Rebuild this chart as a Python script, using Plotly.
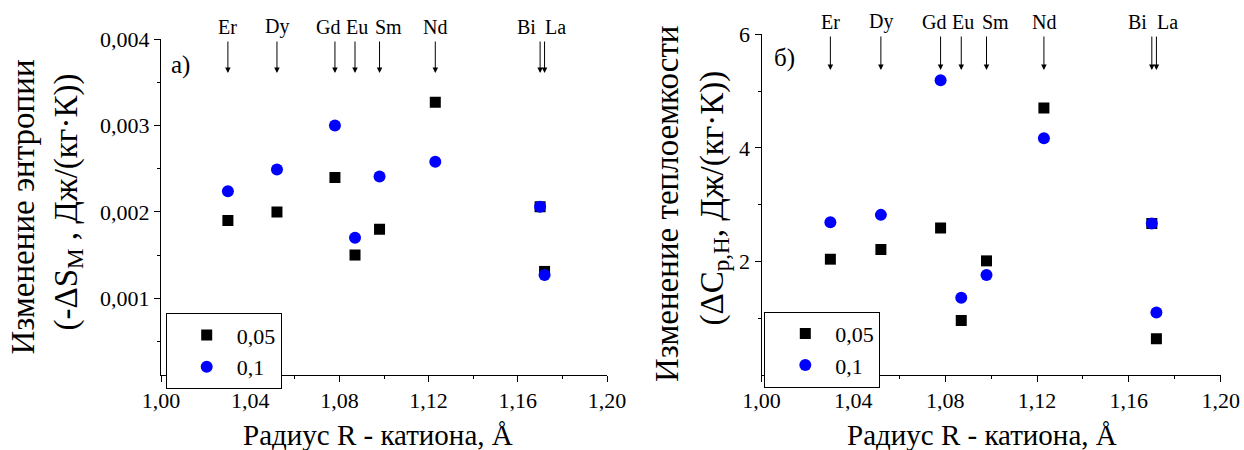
import plotly.graph_objects as go

# ---------------- data ----------------
elements = ["Er", "Dy", "Gd", "Eu", "Sm", "Nd", "Bi", "La"]
radius = [1.030, 1.052, 1.078, 1.087, 1.098, 1.123, 1.170, 1.172]
ds_005 = [0.00190, 0.00200, 0.00240, 0.00150, 0.00180, 0.00327, 0.00206, 0.00131]
ds_01 = [0.00224, 0.00249, 0.00300, 0.00170, 0.00241, 0.00258, 0.00206, 0.00127]
dc_005 = [2.04, 2.21, 2.59, 0.96, 2.01, 4.70, 2.67, 0.64]
dc_01 = [2.69, 2.82, 5.19, 1.36, 1.76, 4.17, 2.67, 1.10]
series_names = ["0,05", "0,1"]
x_ticks = [1.00, 1.04, 1.08, 1.12, 1.16, 1.20]
y1_ticks = [0.001, 0.002, 0.003, 0.004]
y2_ticks = [2, 4, 6]

# ---------------- style ----------------
W, H = 1244, 450
FONT = "Liberation Serif"
label_shift = {"Er": 0, "Dy": 0, "Gd": -6.5, "Eu": 2, "Sm": 9, "Nd": 0, "Bi": -14, "La": 11}

def px(x):
    return x / W

def py(y):
    return 1 - y / H

fig = go.Figure()

sq = dict(symbol="square", size=11, color="black")
ci = dict(symbol="circle", size=12, color="#0000FF")

fig.add_trace(go.Scatter(x=radius, y=ds_005, mode="markers", marker=sq, name=series_names[0],
                         xaxis="x", yaxis="y", legend="legend"))
fig.add_trace(go.Scatter(x=radius, y=ds_01, mode="markers", marker=ci, name=series_names[1],
                         xaxis="x", yaxis="y", legend="legend"))
fig.add_trace(go.Scatter(x=radius, y=dc_005, mode="markers", marker=sq, name=series_names[0],
                         xaxis="x2", yaxis="y2", legend="legend2"))
fig.add_trace(go.Scatter(x=radius, y=dc_01, mode="markers", marker=ci, name=series_names[1],
                         xaxis="x2", yaxis="y2", legend="legend2"))

axis_common = dict(showline=True, linecolor="black", linewidth=1, mirror=False,
                   ticks="outside", ticklen=6, tickwidth=1, tickcolor="black",
                   showgrid=False, zeroline=False, automargin=False,
                   tickfont=dict(family=FONT, size=22, color="black"))

xcommon = dict(axis_common, range=[1.0, 1.2], tickvals=x_ticks, tickformat=".2f",
               minor=dict(tickmode="linear", tick0=1.0, dtick=0.02, ticks="outside",
                          ticklen=3, tickwidth=1, tickcolor="black", showgrid=False))

fig.update_layout(
    width=W, height=H,
    margin=dict(l=0, r=0, t=0, b=0),
    paper_bgcolor="white", plot_bgcolor="white",
    separators=", ",
    showlegend=True,
    font=dict(family=FONT, color="black"),
    xaxis=dict(xcommon, domain=[px(161), px(607)], anchor="y"),
    xaxis2=dict(xcommon, domain=[px(761.5), px(1220.7)], anchor="y2"),
    yaxis=dict(axis_common, range=[0.00011, 0.004], domain=[py(375), py(39.3)], anchor="x",
               tickvals=y1_ticks, tickformat=".3f",
               minor=dict(tickvals=[0.0005, 0.0015, 0.0025, 0.0035], ticks="outside",
                          ticklen=3, tickwidth=1, tickcolor="black", showgrid=False)),
    yaxis2=dict(axis_common, range=[0, 6], domain=[py(375), py(34.3)], anchor="x2",
                tickvals=y2_ticks, tickformat="d",
                minor=dict(tickvals=[1, 3, 5], ticks="outside",
                           ticklen=3, tickwidth=1, tickcolor="black", showgrid=False)),
    legend=dict(x=px(165.7), y=py(313.3), xanchor="left", yanchor="top",
                bordercolor="black", borderwidth=1, bgcolor="white",
                font=dict(family=FONT, size=22, color="black"),
                itemwidth=50, indentation=10, tracegroupgap=0),
    legend2=dict(x=px(764.3), y=py(311.7), xanchor="left", yanchor="top",
                 bordercolor="black", borderwidth=1, bgcolor="white",
                 font=dict(family=FONT, size=22, color="black"),
                 itemwidth=50, indentation=10, tracegroupgap=0),
)

ann = []
# element labels and arrows
for xr, lab_y, tip_y, tail_y in [("x", 26.7, 73, 40), ("x2", 21.7, 70, 35)]:
    for el, r in zip(elements, radius):
        ann.append(dict(x=r, y=py(lab_y), xref=xr, yref="paper", text=el, showarrow=False,
                        xanchor="center", yanchor="middle", xshift=label_shift[el],
                        font=dict(family=FONT, size=20, color="black")))
        ann.append(dict(x=r, y=py(tip_y), xref=xr, yref="paper", text="", showarrow=True,
                        ax=0, ay=-(tip_y - tail_y), arrowhead=2, arrowsize=1.1,
                        arrowwidth=1, arrowcolor="black"))

# panel labels
ann.append(dict(x=px(169), y=py(65), xref="paper", yref="paper", text="a)", showarrow=False,
                xanchor="left", yanchor="middle", font=dict(family=FONT, size=25, color="black")))
ann.append(dict(x=px(771.7), y=py(58), xref="paper", yref="paper", text="б)", showarrow=False,
                xanchor="left", yanchor="middle", font=dict(family=FONT, size=25, color="black")))

# x titles
for cx in (377.5, 982):
    ann.append(dict(x=px(cx), y=py(435), xref="paper", yref="paper",
                    text="Радиус R - катиона, Å", showarrow=False,
                    xanchor="center", yanchor="middle",
                    font=dict(family=FONT, size=29, color="black")))

# y titles (two lines each)
ytitles = [
    (22, 207.5, "Изменение энтропии"),
    (68, 202.5, "(-ΔS<sub>M</sub> , Дж/(кг·К))"),
    (667, 204, "Изменение теплоемкости"),
    (714, 198.5, "(ΔC<sub>p,H</sub>, Дж/(кг·К))"),
]
for cx, cy, t in ytitles:
    ann.append(dict(x=px(cx), y=py(cy), xref="paper", yref="paper", text=t,
                    showarrow=False, textangle=-90, xanchor="center", yanchor="middle",
                    font=dict(family=FONT, size=33, color="black")))

fig.update_layout(annotations=ann)
fig.write_html("out.html")
